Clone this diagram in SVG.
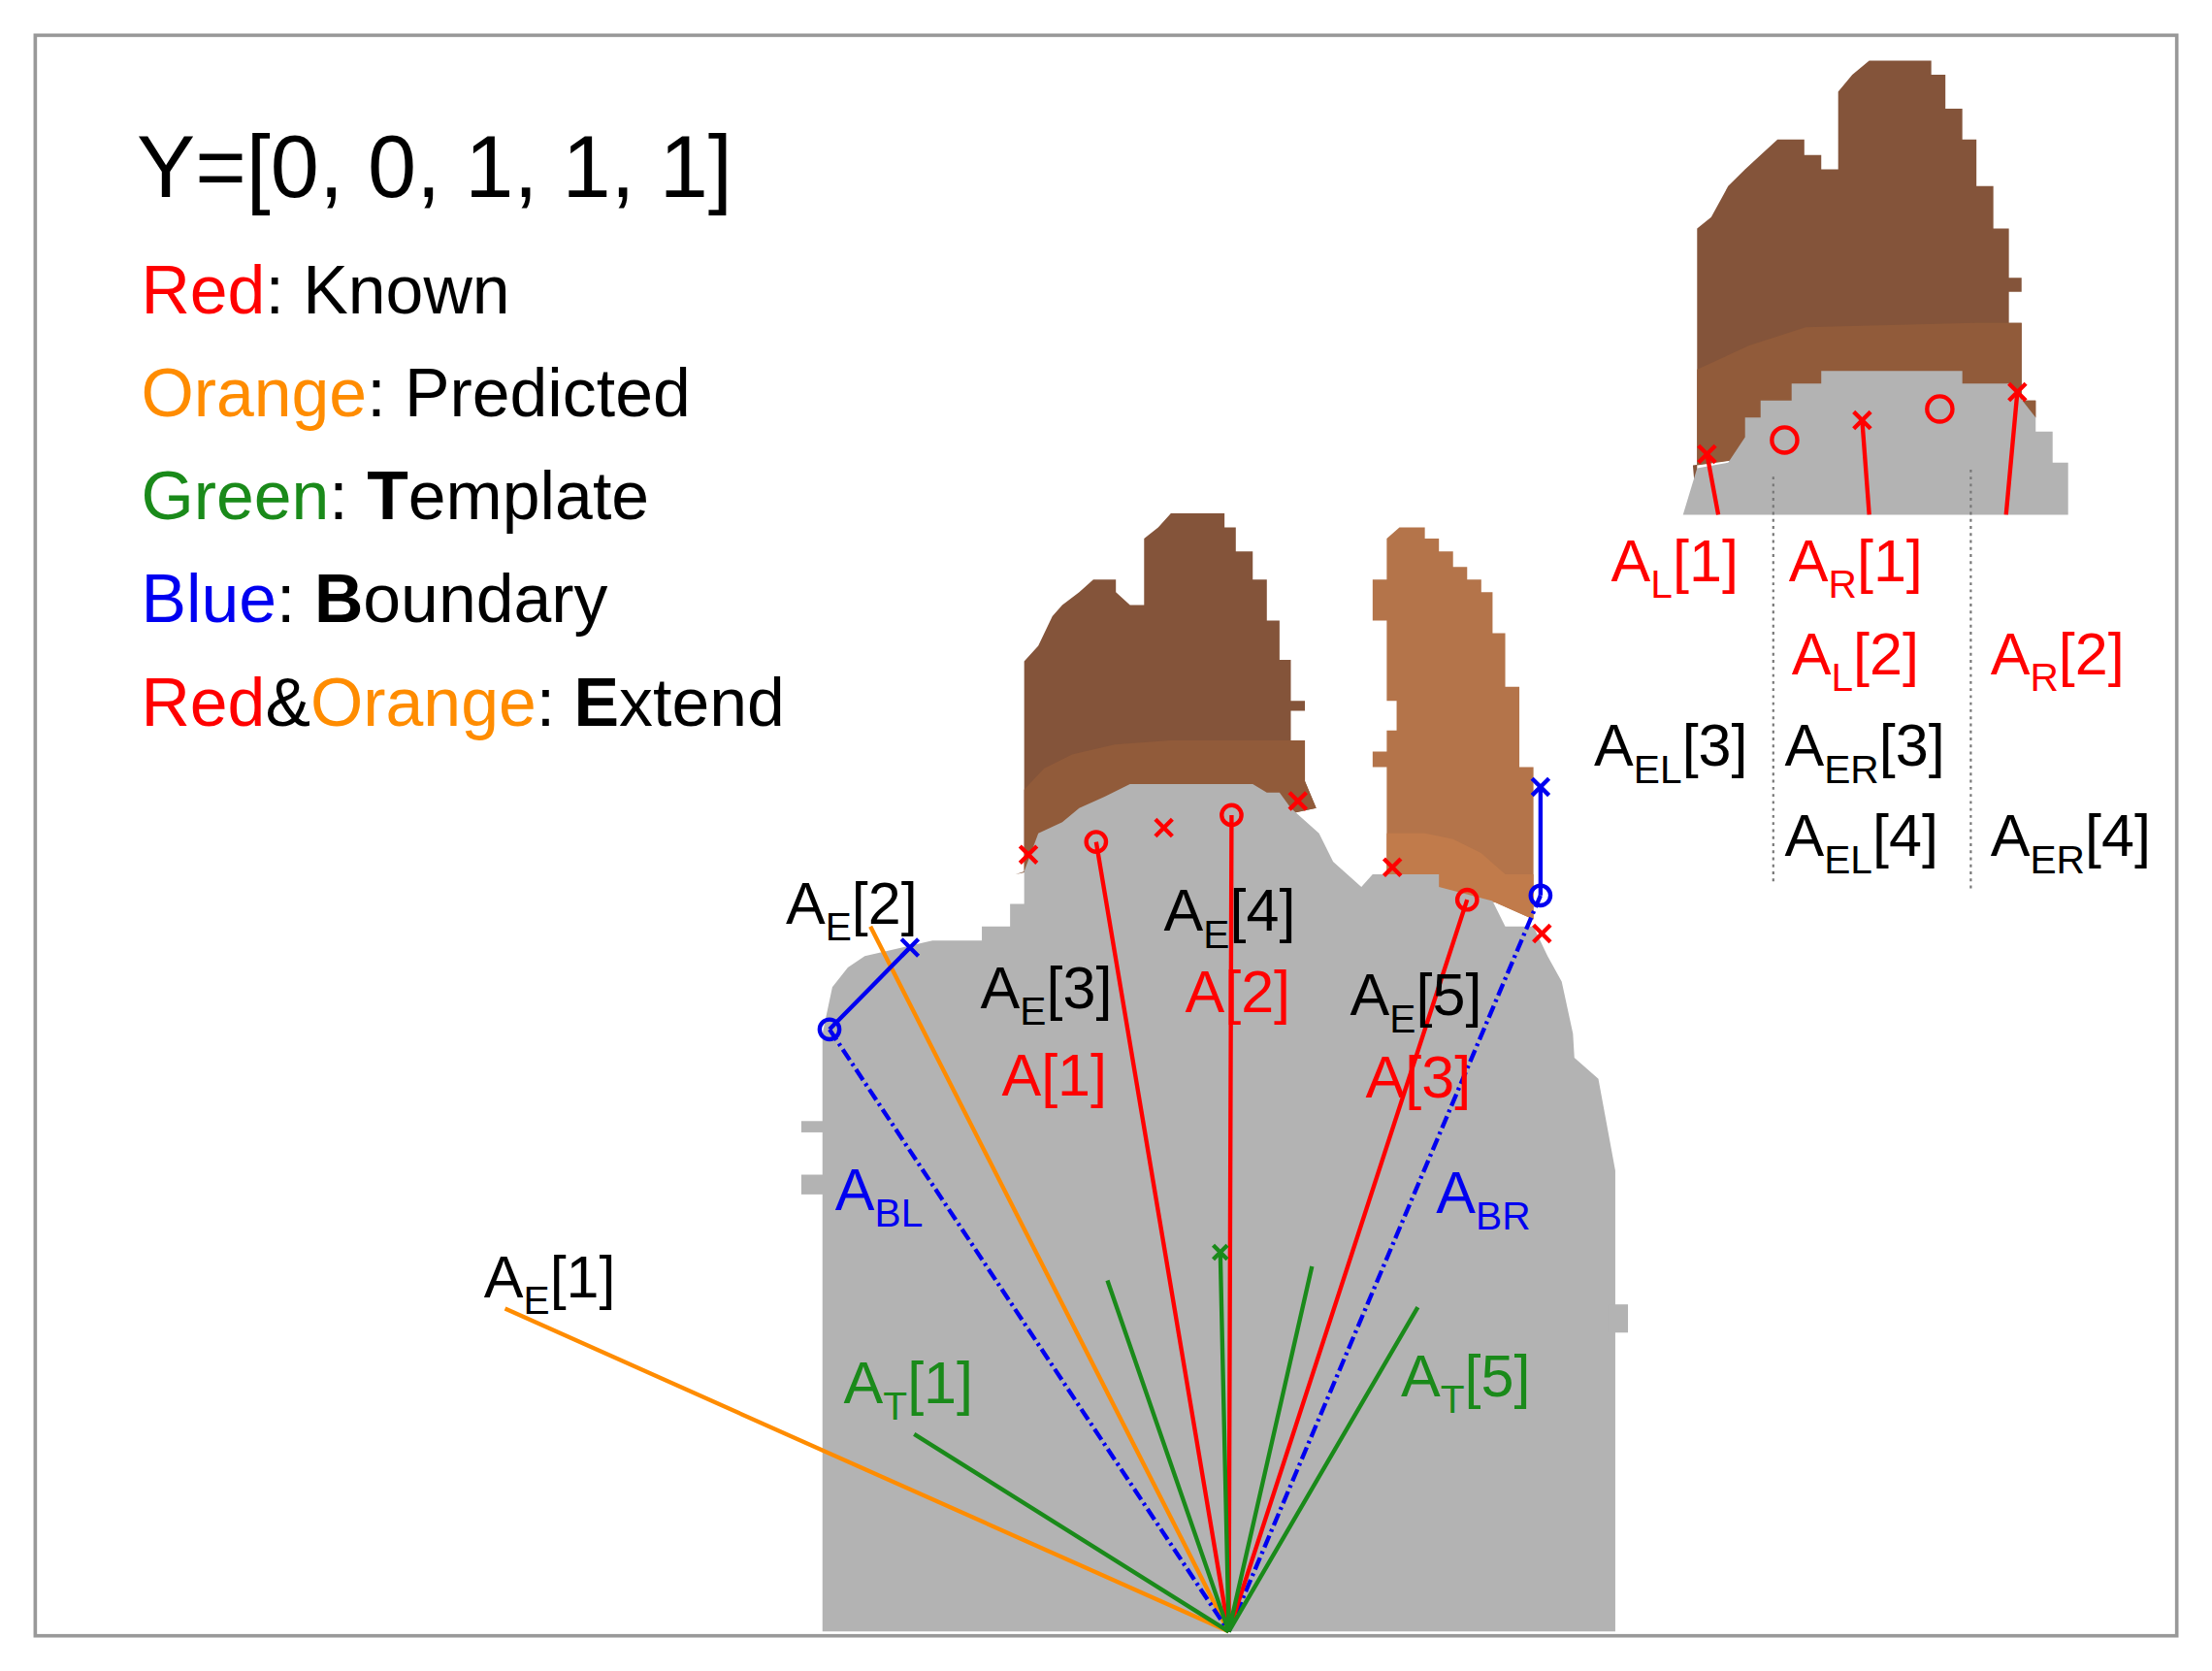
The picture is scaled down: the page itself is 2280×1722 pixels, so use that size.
<svg xmlns="http://www.w3.org/2000/svg" width="2280" height="1722" viewBox="0 0 2280 1722">
<style>
text{font-family:"Liberation Sans","Open Sans",sans-serif;}
.lg{font-size:48px;fill:#000}
.lb{font-size:42px}
.sub{font-size:28px}
.k{fill:#000}.r{fill:#f00}.o{fill:#ff8c00}.g{fill:#1a8a1a}.b{fill:#0000f0}
.red{stroke:#f00;stroke-width:3;fill:none}
.org{stroke:#ff8c00;stroke-width:3;fill:none}
.grn{stroke:#1a8a1a;stroke-width:3;fill:none}
.blu{stroke:#0000f0;stroke-width:3;fill:none}
.dash{stroke-dasharray:9 3 2 3}
.dot{stroke:#777;stroke-width:1.5;stroke-dasharray:2 3;fill:none}
</style>
<rect width="2280" height="1722" fill="#fff"/>
<g transform="scale(1.4541,1.4532)">
<rect x="25" y="25" width="1518" height="1135" fill="none" stroke="#999" stroke-width="2.5"/>
<g id="legend">
<text x="97" y="140" style="font-size:62px">Y=[0, 0, 1, 1, 1]</text>
<text class="lg" x="100" y="222"><tspan class="r">Red</tspan>: Known</text>
<text class="lg" x="100" y="295"><tspan class="o">Orange</tspan>: Predicted</text>
<text class="lg" x="100" y="368"><tspan class="g">Green</tspan>: <tspan font-weight="bold">T</tspan>emplate</text>
<text class="lg" x="100" y="441"><tspan class="b">Blue</tspan>: <tspan font-weight="bold">B</tspan>oundary</text>
<text class="lg" x="100" y="515"><tspan class="r">Red</tspan>&amp;<tspan class="o">Orange</tspan>: <tspan font-weight="bold">E</tspan>xtend</text>
</g>
<g id="teeth">
<polygon fill="#84543a" points="726,618 726,469 736,458 746,437 753,429 765,420 775,411 791,411 791,420 801,429 811,429 811,382 821,374 830,364 868,364 868,374 876,374 876,391 888,391 888,411 898,411 898,440 907,440 907,468 915,468 915,497 925,497 925,504 915,504 915,525 925,525 925,554 933,573 720,620"/>
<polygon fill="#915b3a" points="726,618 726,560 740,545 760,535 790,528 830,525 915,525 925,525 925,554 933,573 800,600"/>
<polygon fill="#b4744a" points="973,440 973,411 983,411 983,382 992,374 1010,374 1010,382 1020,382 1020,391 1030,391 1030,402 1040,402 1040,411 1050,411 1050,420 1058,420 1058,449 1067,449 1067,487 1077,487 1077,544 1087,544 1087,652 1060,640 983,620 983,544 973,544 973,533 983,533 983,518 990,518 990,497 983,497 983,440"/>
<polygon fill="#c17b4b" points="983,591 1010,591 1030,595 1050,605 1067,620 1087,620 1087,652 1060,640 983,620"/>
<polygon fill="#b3b3b3" points="583,1157 583,733 590,700 601,686 613,678 661,667 696,667 696,657 716,657 716,641 726,641 726,618 736,591 753,583 765,573 783,565 801,556 888,556 898,562 907,562 915,573 925,582 935,591 945,611 955,620 965,629 973,620 1020,620 1020,629 1058,639 1067,657 1087,657 1097,678 1107,696 1115,733 1116,750 1133,765 1145,830 1145,1157"/>
<rect x="568" y="795" width="16" height="8" fill="#b3b3b3"/>
<rect x="568" y="833" width="16" height="14" fill="#b3b3b3"/>
<rect x="1140" y="925" width="14" height="20" fill="#b3b3b3"/>
</g>
<g id="inset">
<polygon fill="#84543a" points="1203,365 1203,162 1213,154 1225,132 1237,120 1248,110 1260,99 1279,99 1279,110 1291,110 1291,120 1303,120 1303,65 1313,53 1325,43 1369,43 1369,53 1379,53 1379,77 1391,77 1391,99 1401,99 1401,132 1413,132 1413,162 1424,162 1424,197 1433,197 1433,207 1424,207 1424,229 1433,229 1433,284 1443,284 1443,296 1200,330"/>
<polygon fill="#915b3a" points="1203,330 1203,262 1240,245 1280,232 1400,229 1424,229 1433,229 1433,284 1443,284 1443,296 1203,330"/>
<polygon fill="#b3b3b3" points="1193,365 1203,332 1225,328 1237,310 1237,296 1248,296 1248,284 1270,284 1270,272 1291,272 1291,263 1391,263 1391,272 1424,272 1443,296 1443,306 1455,306 1455,328 1466,328 1466,365"/>
<path class="red" d="M1210,322 L1218,365 M1320,298 L1325,365 M1430,278 L1422,365" stroke-width="4"/>
<path class="red" d="M1204,316 l12,12 M1216,316 l-12,12 M1314,292 l12,12 M1326,292 l-12,12 M1424,272 l12,12 M1436,272 l-12,12"/>
<circle class="red" cx="1265" cy="312" r="9"/>
<circle class="red" cx="1375" cy="290" r="9"/>
<path class="dot" d="M1257,338 V628 M1397,333 V632"/>
<g class="lb">
<text class="r" x="1142" y="412">A<tspan class="sub" dy="12">L</tspan><tspan dy="-12">[1]</tspan></text>
<text class="r" x="1268" y="412">A<tspan class="sub" dy="12">R</tspan><tspan dy="-12">[1]</tspan></text>
<text class="r" x="1270" y="478">A<tspan class="sub" dy="12">L</tspan><tspan dy="-12">[2]</tspan></text>
<text class="r" x="1411" y="478">A<tspan class="sub" dy="12">R</tspan><tspan dy="-12">[2]</tspan></text>
<text class="k" x="1130" y="543">A<tspan class="sub" dy="12">EL</tspan><tspan dy="-12">[3]</tspan></text>
<text class="k" x="1265" y="543">A<tspan class="sub" dy="12">ER</tspan><tspan dy="-12">[3]</tspan></text>
<text class="k" x="1265" y="607">A<tspan class="sub" dy="12">EL</tspan><tspan dy="-12">[4]</tspan></text>
<text class="k" x="1411" y="607">A<tspan class="sub" dy="12">ER</tspan><tspan dy="-12">[4]</tspan></text>
</g>
</g>
<g id="connectors">
<path class="org" d="M358,928 L871,1157 M617,657 L871,1157"/>
<path class="blu dash" d="M588,730 L871,1157 M1092,635 L871,1157"/>
<path class="blu" d="M588,730 L645,672 M1092,635 L1092,558"/>
<path class="red" d="M777,597 L871,1157 M873,578 L871,1157 M1040,638 L871,1157"/>
<path class="grn" d="M648,1017 L871,1157 M785,908 L871,1157 M865,888 L871,1157 M930,898 L871,1157 M1005,927 L871,1157"/>
</g>
<g id="markers">
<path class="blu" d="M639,666 l12,12 M651,666 l-12,12 M1086,552 l12,12 M1098,552 l-12,12"/>
<circle class="blu" cx="588" cy="730" r="7"/>
<circle class="blu" cx="1092" cy="635" r="7"/>
<circle class="red" cx="777" cy="597" r="7"/>
<circle class="red" cx="873" cy="578" r="7"/>
<circle class="red" cx="1040" cy="638" r="7"/>
<path class="red" d="M723,600 l12,12 M735,600 l-12,12 M819,581 l12,12 M831,581 l-12,12 M914,562 l12,12 M926,562 l-12,12 M981,609 l12,12 M993,609 l-12,12 M1087,656 l12,12 M1099,656 l-12,12"/>
<path class="grn" d="M860,883 l10,10 M870,883 l-10,10"/>
</g>
<g id="labels" class="lb">
<text class="k" x="557" y="655">A<tspan class="sub" dy="12">E</tspan><tspan dy="-12">[2]</tspan></text>
<text class="k" x="825" y="660">A<tspan class="sub" dy="12">E</tspan><tspan dy="-12">[4]</tspan></text>
<text class="k" x="695" y="715">A<tspan class="sub" dy="12">E</tspan><tspan dy="-12">[3]</tspan></text>
<text class="r" x="840" y="718">A[2]</text>
<text class="k" x="957" y="720">A<tspan class="sub" dy="12">E</tspan><tspan dy="-12">[5]</tspan></text>
<text class="r" x="710" y="777">A[1]</text>
<text class="r" x="968" y="778">A[3]</text>
<text class="b" x="592" y="858">A<tspan class="sub" dy="12">BL</tspan></text>
<text class="b" x="1018" y="860">A<tspan class="sub" dy="12">BR</tspan></text>
<text class="k" x="343" y="920">A<tspan class="sub" dy="12">E</tspan><tspan dy="-12">[1]</tspan></text>
<text class="g" x="598" y="995">A<tspan class="sub" dy="12">T</tspan><tspan dy="-12">[1]</tspan></text>
<text class="g" x="993" y="990">A<tspan class="sub" dy="12">T</tspan><tspan dy="-12">[5]</tspan></text>
</g>
</g>
</svg>
